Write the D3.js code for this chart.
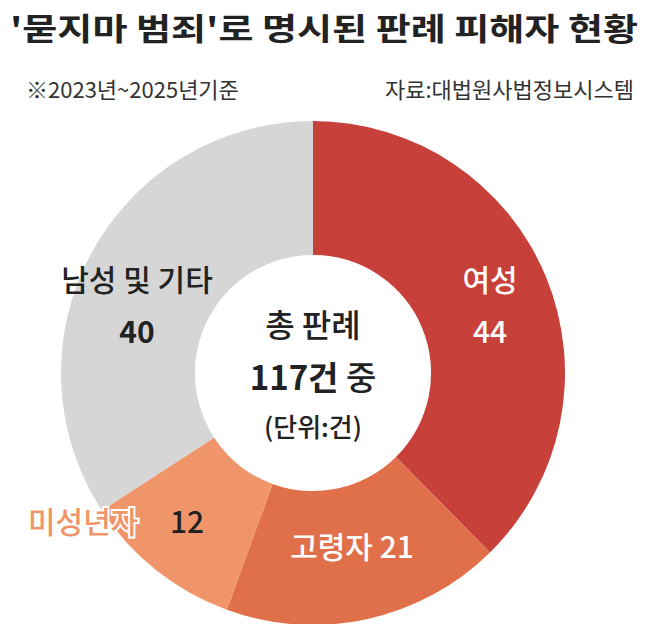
<!DOCTYPE html>
<html><head><meta charset="utf-8">
<script src="https://cdn.jsdelivr.net/npm/d3@7"></script>
<style>body{margin:0;background:#fff}svg{font-family:"Noto Sans CJK KR",sans-serif}</style>
</head><body><svg id="c" width="650" height="624"></svg>
<script>
const categories = ["여성","고령자","미성년자","남성 및 기타"];
const values = [44,21,12,40];
const colors = ["#c8403a","#e0704a","#f0956a","#d6d6d6"];
const total = 117;

const svg = d3.select("#c");
const cx = 313, cy = 373, R = 252, r = 118;
const pie = d3.pie().sort(null).value(d=>d)(values);
const arc = d3.arc().innerRadius(r).outerRadius(R);
const g = svg.append("g").attr("transform",`translate(${cx},${cy})`);
g.selectAll("path").data(pie).join("path").attr("d",arc).attr("fill",(d,i)=>colors[i]);
g.append("circle").attr("r",r).attr("fill","#fff").attr("opacity",0.4);
g.append("circle").attr("r",106).attr("fill","#fff");

svg.append("text").attr("x",10).attr("y",40).attr("font-size",31).attr("font-weight",700).attr("fill","#222")
  .attr("textLength",628).attr("lengthAdjust","spacingAndGlyphs").text("'묻지마 범죄'로 명시된 판례 피해자 현황");
svg.append("text").attr("x",26).attr("y",98).attr("font-size",22).attr("fill","#333").text("※2023년~2025년기준");
svg.append("text").attr("x",634).attr("y",98).attr("font-size",22).attr("fill","#333").attr("text-anchor","end").text("자료:대법원사법정보시스템");

function t(x,y,s,txt,opt={}){
  const e = svg.append("text").attr("x",x).attr("y",y).attr("font-size",s).attr("text-anchor",opt.anchor||"middle")
    .attr("fill",opt.fill||"#222").attr("font-weight",opt.bold?700:500).text(txt);
  if(opt.stroke) e.attr("stroke",opt.stroke).attr("stroke-width",4).attr("paint-order","stroke");
  return e;
}
t(490,291,30,categories[0],{fill:"#fff"});
t(490,343,30,values[0],{fill:"#fff"});
t(352,558,30,categories[1]+" "+values[1],{fill:"#fff"});
t(28,533,30,categories[2],{fill:"#f0956a",anchor:"start",stroke:"#fff"});
t(170,533,30,values[2],{anchor:"start",fill:"#222"});
t(137,291,30,categories[3]);
t(137,343,30,values[3],{bold:true});
t(313,337,32,"총 판례");
const c = t(313,390,33,"");
c.append("tspan").attr("font-weight",700).text(total+"건");
c.append("tspan").attr("font-weight",500).text(" 중");
t(313,437,26,"(단위:건)",{});
</script></body></html>
